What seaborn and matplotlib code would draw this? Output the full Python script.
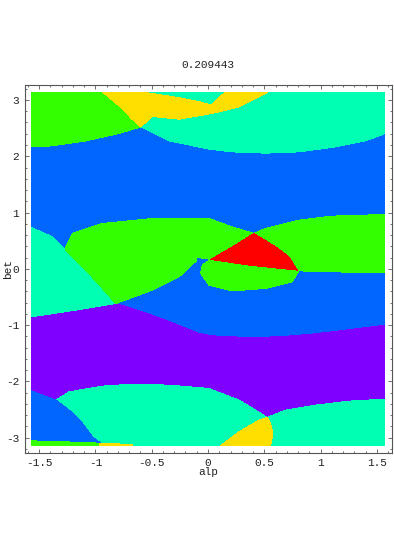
import numpy as np
import seaborn as sns
import matplotlib.pyplot as plt
from matplotlib.ticker import MultipleLocator

sns.set_style("ticks")
plt.rcParams['font.family'] = ['Liberation Mono', 'DejaVu Sans Mono']

PI = np.pi

# region colours (hue-style)
c_blue = "#0066ff"
c_aqua = "#00ffb2"
c_green = "#33ff00"
c_yellow = "#ffdf00"
c_purple = "#7f00ff"
c_red = "#ff0000"

# boundary under the top band (left edge -> right edge)
top_x = [-PI/2, -1.384, -1.085, -0.790, -0.597, -0.346, 0.009, 0.213, 0.512, 0.807, 1.100, 1.399, PI/2]
top_y = [2.167, 2.185, 2.273, 2.405, 2.522, 2.273, 2.126, 2.078, 2.055, 2.078, 2.156, 2.273, 2.401]

# green patch, top left
gtl_x = [-PI/2, -0.938, -0.790, -0.674, -0.597, -0.790, -1.085, -1.384, -PI/2]
gtl_y = [PI, PI, 2.895, 2.659, 2.522, 2.405, 2.273, 2.185, 2.167]

# yellow patch, top
ytop_x = [-0.938, -0.586, -0.257, -0.080, 0.035, 0.098, 0.160, 0.532, 0.453, 0.275, 0.035, -0.257, -0.494, -0.597, -0.674, -0.790]
ytop_y = [PI, PI, 3.041, 2.970, 2.908, 3.050, PI, PI, 3.055, 2.877, 2.760, 2.659, 2.707, 2.522, 2.659, 2.895]

# purple band: upper and lower boundaries (left -> right)
pu_x = [-PI/2, -1.233, -0.819, -0.672, -0.375, -0.080, 0.038, 0.335, 0.630, 0.925, 1.222, PI/2]
pu_y = [-0.853, -0.751, -0.615, -0.703, -0.911, -1.147, -1.190, -1.218, -1.208, -1.160, -1.089, -1.000]
pl_x = [-PI/2, -1.351, -1.233, -0.938, -0.672, -0.346, 0.009, 0.098, 0.275, 0.423, 0.526, 0.689, 0.956, 1.251, PI/2]
pl_y = [-2.167, -2.332, -2.185, -2.083, -2.048, -2.066, -2.124, -2.195, -2.332, -2.510, -2.639, -2.510, -2.421, -2.350, -2.314]

# blue patch, bottom left
bbl_x = [-PI/2, -1.351, -1.233, -1.115, -1.027, -0.952, -0.940, -PI/2]
bbl_y = [-2.167, -2.332, -2.510, -2.746, -2.984, -3.101, -PI, -PI]

# thin strips at the bottom edge
gstrip_x = [-PI/2, -1.000, -0.930, -PI/2]
gstrip_y = [-3.055, -3.090, -PI, -PI]
ystrip_x = [-0.960, -0.800, -0.674, -0.674, -0.960]
ystrip_y = [-3.100, -3.110, -3.125, -PI, -PI]

# yellow patch, bottom
ybot_x = [0.113, 0.275, 0.453, 0.526, 0.556, 0.577, 0.556]
ybot_y = [-PI, -2.895, -2.687, -2.639, -2.746, -2.924, -PI]

# aqua patch, middle left
aml_x = [-PI/2, -1.382, -1.263, -1.085, -0.938, -0.819, -1.233, -PI/2]
aml_y = [0.735, 0.568, 0.332, -0.023, -0.348, -0.615, -0.751, -0.853]

# big green lens
gbig_x = [-1.263, -1.204, -0.938, -0.494, 0.009, 0.213, 0.408, 0.216, 0.024, -0.020, -0.100,
          -0.105, -0.257, -0.494, -0.819, -0.938, -1.085, -1.263]
gbig_y = [0.391, 0.629, 0.806, 0.895, 0.895, 0.746, 0.629, 0.391, 0.167, 0.185, 0.200,
          0.140, -0.142, -0.378, -0.615, -0.348, -0.023, 0.332]

# small green lens under the red patch
gsm_x = [-0.065, -0.051, 0.024, 0.364, 0.792, 0.801, 0.748, 0.512, 0.216, 0.009]
gsm_y = [-0.082, 0.066, 0.167, 0.066, -0.023, -0.053, -0.231, -0.348, -0.391, -0.290]

# green lens on the right
grt_x = [0.408, 0.512, 0.807, 1.100, PI/2, PI/2, 1.103, 0.807, 0.792, 0.719, 0.601]
grt_y = [0.629, 0.718, 0.865, 0.936, 0.966, -0.071, -0.053, -0.036, -0.023, 0.213, 0.391]

# red patch
red_x = [0.408, 0.216, 0.024, 0.364, 0.792, 0.719, 0.601]
red_y = [0.629, 0.391, 0.167, 0.066, -0.023, 0.213, 0.391]

xticks = [-1.5, -1, -0.5, 0, 0.5, 1, 1.5]
xlabels = ["-1.5", "-1", "-0.5", "0", "0.5", "1", "1.5"]
yticks = [-3, -2, -1, 0, 1, 2, 3]
ylabels = ["-3", "-2", "-1", "0", "1", "2", "3"]

fig = plt.figure(figsize=(3.94, 5.45), dpi=100)
ax = fig.add_axes([24.5/394, (545-452.7)/545, 367/394, (452.7-85)/545])


def patch(xs, ys, color):
    ax.fill(xs, ys, color=color, lw=0, antialiased=False)


patch([-PI/2, PI/2, PI/2, -PI/2], [-PI, -PI, PI, PI], c_blue)
patch(top_x + [PI/2, -PI/2], top_y + [PI, PI], c_aqua)
patch(gtl_x, gtl_y, c_green)
patch(ytop_x, ytop_y, c_yellow)
patch(pu_x + pl_x[::-1], pu_y + pl_y[::-1], c_purple)
patch(pl_x + [PI/2, -PI/2], pl_y + [-PI, -PI], c_aqua)
patch(bbl_x, bbl_y, c_blue)
patch(gstrip_x, gstrip_y, c_green)
patch(ystrip_x, ystrip_y, c_yellow)
patch(ybot_x, ybot_y, c_yellow)
patch(aml_x, aml_y, c_aqua)
patch(gbig_x, gbig_y, c_green)
patch(gsm_x, gsm_y, c_green)
patch(grt_x, grt_y, c_green)
patch(red_x, red_y, c_red)

ax.set_xlim(-1.63, 1.63)
ax.set_ylim(-3.266, 3.266)
ax.set_xticks(xticks, xlabels)
ax.set_yticks(yticks, ylabels)
ax.xaxis.set_minor_locator(MultipleLocator(0.1))
ax.yaxis.set_minor_locator(MultipleLocator(0.2))
ax.tick_params(which="both", direction="in", top=True, right=True, colors="#555555",
               labelcolor="#222222", labelsize=8, width=0.6)
ax.tick_params(which="major", length=3.2, pad=4)
ax.tick_params(which="minor", length=1.6)
for s in ax.spines.values():
    s.set_color("#555555")
    s.set_linewidth(0.8)

ax.set_title("0.209443", fontsize=8, pad=12, color="#222222")
ax.set_xlabel("alp", fontsize=8, color="#222222")
ax.set_ylabel("bet", fontsize=8, color="#222222")
ax.xaxis.set_label_coords(0.5, -(472 - 452.7) / 367.7, transform=ax.transAxes)
ax.xaxis.label.set_va("center")
ax.yaxis.set_label_coords(-(24.5 - 8) / 367, 0.5, transform=ax.transAxes)
ax.yaxis.label.set_va("center")

fig.savefig("out.png", dpi=100)
